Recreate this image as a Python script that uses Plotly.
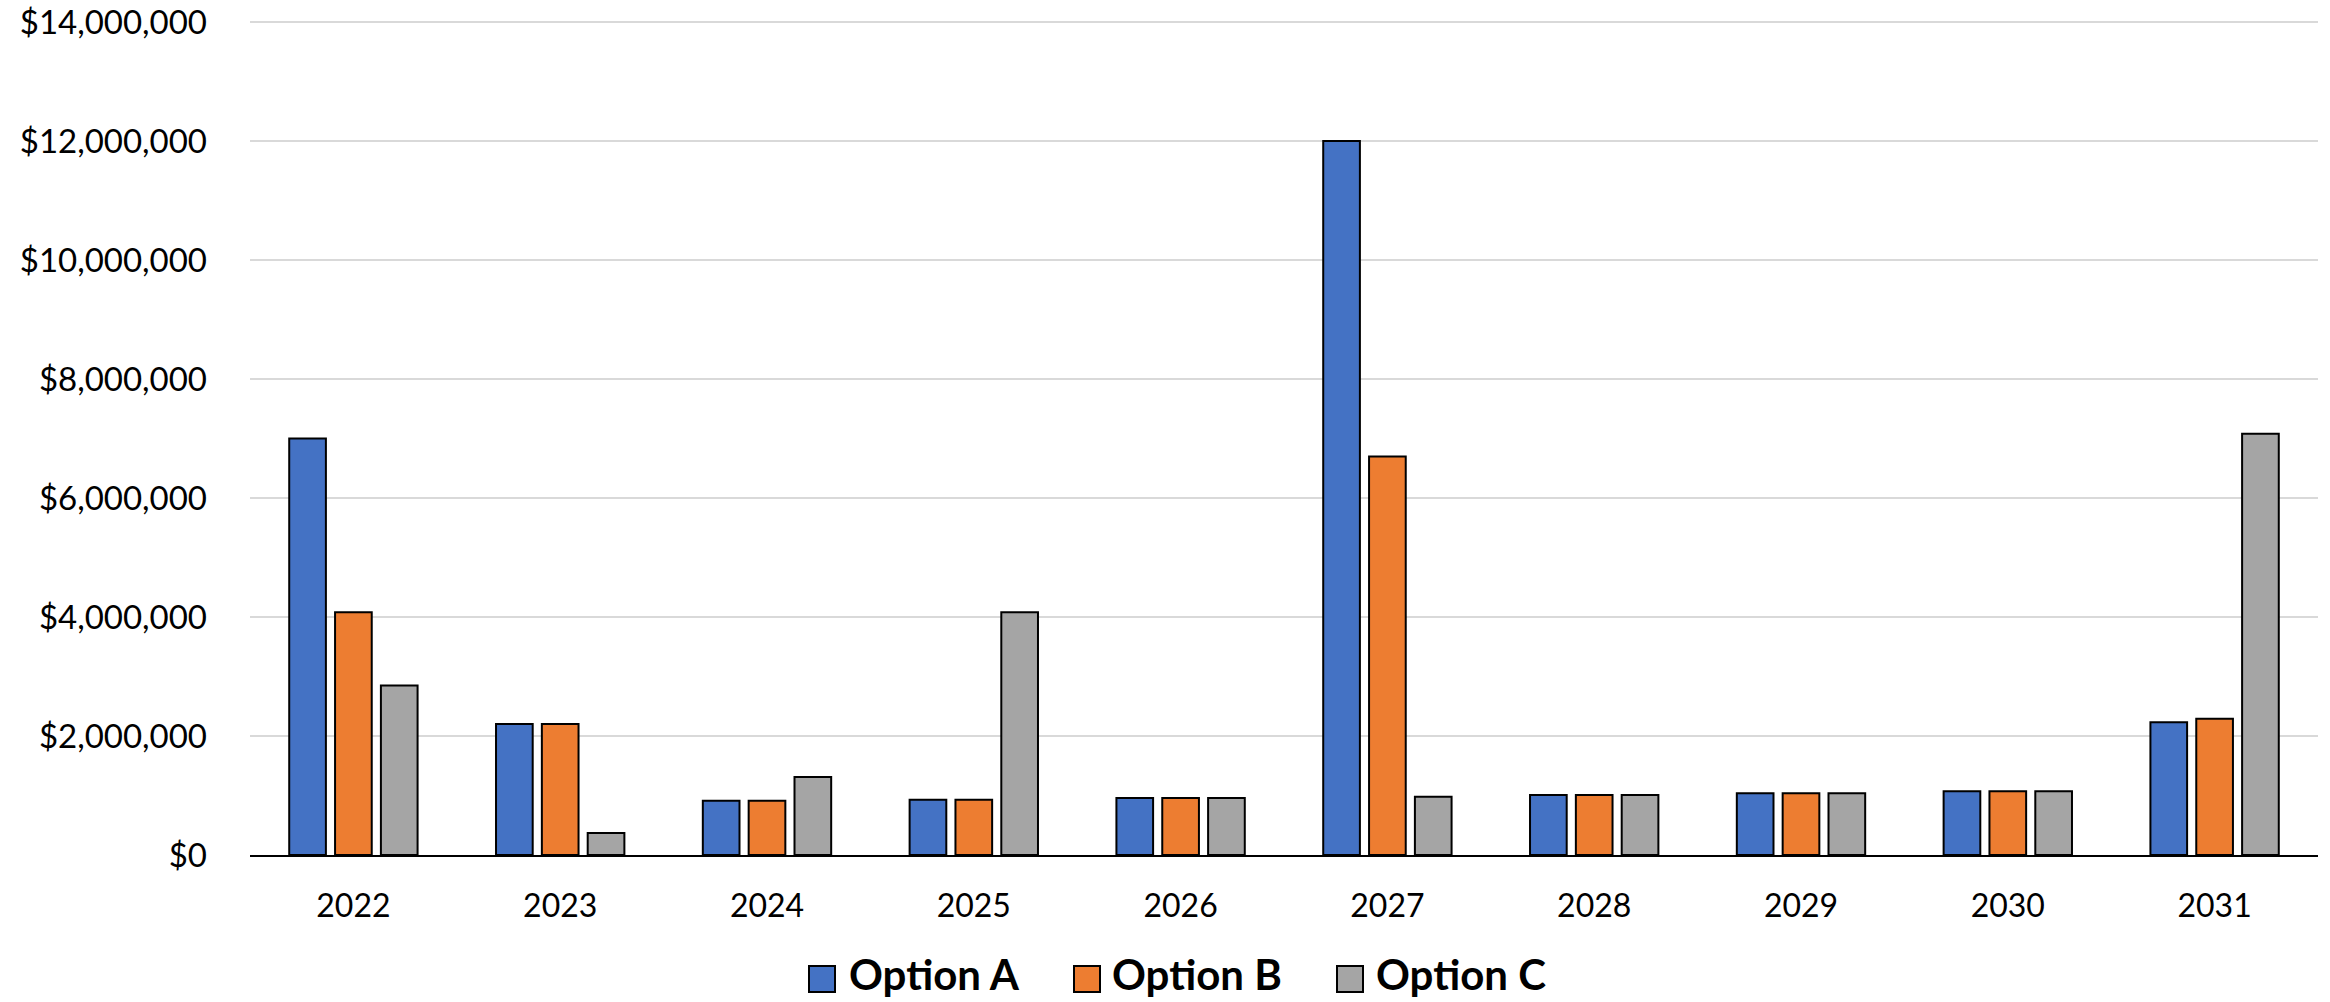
import plotly.graph_objects as go

years = ["2022", "2023", "2024", "2025", "2026", "2027", "2028", "2029", "2030", "2031"]
series_names = ["Option A", "Option B", "Option C"]
option_a = [7000000, 2200000, 910000, 930000, 960000, 12000000, 1010000, 1040000, 1070000, 2230000]
option_b = [4080000, 2200000, 910000, 930000, 960000, 6700000, 1010000, 1040000, 1070000, 2290000]
option_c = [2850000, 370000, 1310000, 4080000, 960000, 980000, 1010000, 1040000, 1070000, 7080000]
colors = ["#4472C4", "#ED7D31", "#A5A5A5"]
y_ticks = [0, 2000000, 4000000, 6000000, 8000000, 10000000, 12000000, 14000000]
y_tick_text = ["${:,}".format(v) for v in y_ticks]

W, H = 2330, 1002
L, R, T, B = 250, 12, 20, 147
plot_w = W - L - R
plot_h = H - T - B

fig = go.Figure()
for name, vals, col in zip(series_names, [option_a, option_b, option_c], colors):
    fig.add_trace(go.Bar(
        x=years, y=vals, name=name,
        marker=dict(color=col, line=dict(color="#000000", width=2)),
        showlegend=False,
    ))

# custom legend (large square swatches like the reference)
legend_items = [
    (809, 850),
    (1074, 1113),
    (1337, 1377),
]
def px_to_paper_x(px):
    return (px - L) / plot_w
def py_to_paper_y(py):
    return (H - B - py) / plot_h

shapes = []
annotations = []
sq = 26
cy = 979
text_cy = 974
for (sx, tx), name, col in zip(legend_items, series_names, colors):
    shapes.append(dict(
        type="rect", xref="paper", yref="paper",
        x0=px_to_paper_x(sx), x1=px_to_paper_x(sx + sq),
        y0=py_to_paper_y(cy + sq / 2), y1=py_to_paper_y(cy - sq / 2),
        fillcolor=col, line=dict(color="#000000", width=2),
    ))
    annotations.append(dict(
        xref="paper", yref="paper",
        x=px_to_paper_x(tx - 2), y=py_to_paper_y(text_cy),
        xanchor="left", yanchor="middle", borderpad=0,
        text="<b>" + name + "</b>", showarrow=False,
        font=dict(family="Lato", size=42, color="#000000"),
    ))

fig.update_layout(
    width=W, height=H,
    margin=dict(l=L, r=R, t=T, b=B, pad=0, autoexpand=False),
    paper_bgcolor="#FFFFFF", plot_bgcolor="#FFFFFF",
    barmode="group", bargap=0.335, bargroupgap=0.2,
    font=dict(family="Lato", size=32, color="#000000"),
    shapes=shapes, annotations=annotations,
    showlegend=False,
)
fig.update_xaxes(
    type="category", range=[-0.5, 9.5], automargin=False,
    showgrid=False, showline=True, linecolor="#000000", linewidth=2,
    ticks="", ticklabelstandoff=22,
    tickfont=dict(family="Lato", size=32, color="#000000"),
)
fig.update_yaxes(
    range=[0, 14035000], tickvals=y_ticks, ticktext=y_tick_text, automargin=False,
    showgrid=True, gridcolor="#D9D9D9", gridwidth=2,
    zeroline=False, showline=False,
    ticks="", ticklabelstandoff=42,
    tickfont=dict(family="Lato", size=33, color="#000000"),
)

fig.write_html("out.html")
